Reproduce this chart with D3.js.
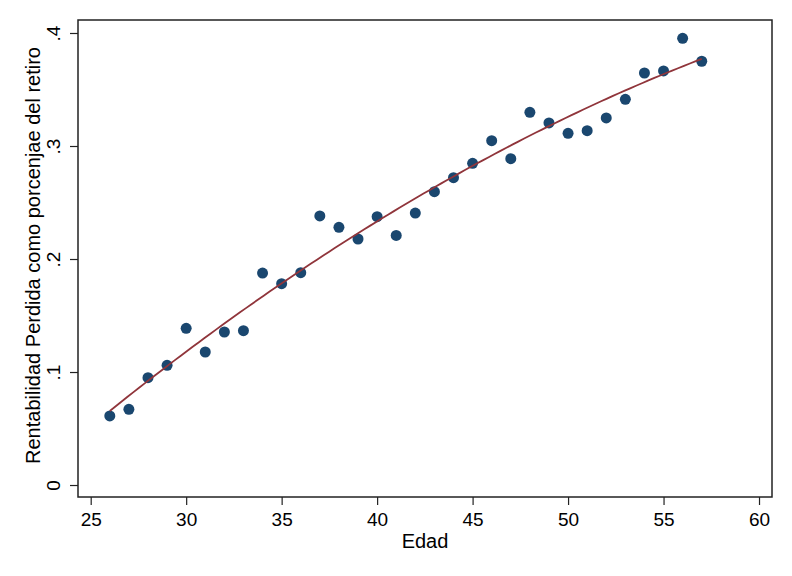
<!DOCTYPE html>
<html>
<head>
<meta charset="utf-8">
<script src="https://cdn.jsdelivr.net/npm/d3@7"></script>
<style>
html,body{margin:0;padding:0;background:#fff;}
text{font-family:"Liberation Sans",Arial,Helvetica,sans-serif;fill:#000;}
</style>
</head>
<body>
<svg id="chart" width="792" height="576"></svg>
<script>
const ages = [26,27,28,29,30,31,32,33,34,35,36,37,38,39,40,41,42,43,44,45,46,47,48,49,50,51,52,53,54,55,56,57];
const values = [0.0611,0.0670,0.0950,0.1059,0.1387,0.1177,0.1354,0.1366,0.1876,0.1782,0.1879,
  0.2381,0.2280,0.2177,0.2375,0.2209,0.2407,0.2596,0.2720,0.2847,0.3047,0.2888,
  0.3298,0.3204,0.3112,0.3136,0.3248,0.3413,0.3646,0.3664,0.3953,0.3750];
const xTicks = [25,30,35,40,45,50,55,60];
const yTicks = [0,0.1,0.2,0.3,0.4];
const yTickLabels = ["0",".1",".2",".3",".4"];
const xTitle = "Edad";
const yTitle = "Rentabilidad Perdida como porcenjae del retiro";

const svg = d3.select("#chart");
const L = 78, R = 772, T = 20, B = 497;
const x = d3.scaleLinear().domain([24.335, 60.68]).range([L, R]);
const y = d3.scaleLinear().domain([-0.0106, 0.4115]).range([B, T]);
const FONT = '"Liberation Sans",Arial,Helvetica,sans-serif';

// quadratic least-squares fit (Stata qfit)
function qfit(xs, ys){
  let S=[0,0,0,0,0], Ty=[0,0,0];
  xs.forEach((xv,i)=>{ for(let k=0;k<5;k++) S[k]+=Math.pow(xv,k); for(let k=0;k<3;k++) Ty[k]+=ys[i]*Math.pow(xv,k); });
  const M=[[S[0],S[1],S[2],Ty[0]],[S[1],S[2],S[3],Ty[1]],[S[2],S[3],S[4],Ty[2]]];
  for(let c=0;c<3;c++){
    for(let r=c+1;r<3;r++){ const f=M[r][c]/M[c][c]; for(let k=c;k<4;k++) M[r][k]-=f*M[c][k]; }
  }
  const b=[0,0,0];
  for(let r=2;r>=0;r--){ let s=M[r][3]; for(let k=r+1;k<3;k++) s-=M[r][k]*b[k]; b[r]=s/M[r][r]; }
  return b;
}
const coef = qfit(ages, values);
const xmin = d3.min(ages), xmax = d3.max(ages);
const fitPts = d3.range(0,101).map(i=>{ const xv = xmin + (xmax-xmin)*i/100; return [xv, coef[0]+coef[1]*xv+coef[2]*xv*xv]; });

// frame
svg.append("rect").attr("x",L).attr("y",T).attr("width",R-L).attr("height",B-T)
  .attr("fill","#fff").attr("stroke","#222").attr("stroke-width",1.5);

// axes
const xAxis = d3.axisBottom(x).tickValues(xTicks).tickSize(8).tickSizeOuter(0).tickPadding(8);
const gx = svg.append("g").attr("transform",`translate(0,${B})`).call(xAxis)
  .attr("font-size",19).attr("font-family",FONT);
gx.select(".domain").remove();
gx.selectAll(".tick line").attr("stroke","#222").attr("stroke-width",1.2);
gx.selectAll(".tick text").attr("fill","#000");

const yAxis = d3.axisLeft(y).tickValues(yTicks).tickFormat((d,i)=>yTickLabels[i]).tickSize(8).tickSizeOuter(0);
const gy = svg.append("g").attr("transform",`translate(${L},0)`).call(yAxis)
  .attr("font-size",19).attr("font-family",FONT);
gy.select(".domain").remove();
gy.selectAll(".tick line").attr("stroke","#222").attr("stroke-width",1.2);
gy.selectAll(".tick text").attr("fill","#000")
  .attr("dy",0).attr("text-anchor","middle")
  .attr("transform","rotate(-90)")
  .attr("x",0).attr("y",-18);

// points
svg.append("g").selectAll("circle").data(ages).join("circle")
  .attr("cx",(d)=>x(d)).attr("cy",(d,i)=>y(values[i])).attr("r",5.5)
  .attr("fill","#1a476f");

// fit line
svg.append("path").datum(fitPts)
  .attr("d", d3.line().x(d=>x(d[0])).y(d=>y(d[1])))
  .attr("fill","none").attr("stroke","#90353b").attr("stroke-width",1.8);

// titles
svg.append("text").attr("x",(L+R)/2).attr("y",548).attr("text-anchor","middle")
  .attr("font-size",20).text(xTitle);
svg.append("text").attr("transform",`translate(40,255.5) rotate(-90)`)
  .attr("text-anchor","middle").attr("font-size",20).text(yTitle);
</script>
</body>
</html>
